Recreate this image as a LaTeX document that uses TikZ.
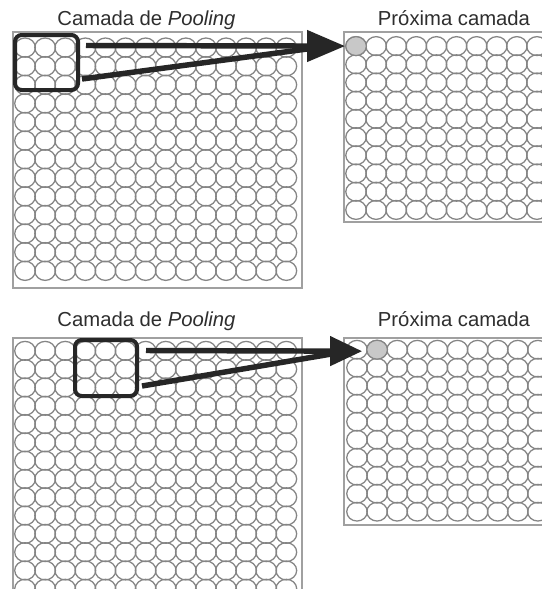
\documentclass[tikz,border=0pt]{standalone}
\usepackage{fontspec}
\setmainfont{Liberation Sans}
\usetikzlibrary{arrows.meta,shapes.geometric,calc}
\definecolor{ringc}{HTML}{858585}
\definecolor{framec}{HTML}{A0A0A0}
\definecolor{inkc}{HTML}{262626}
\definecolor{textc}{HTML}{2E2E2E}
\definecolor{hitc}{HTML}{C8C8C8}
\begin{document}
\begin{tikzpicture}[x=0.75pt,y=-0.75pt,
 ring/.style={draw=ringc,line width=0.95pt},
 frame/.style={draw=framec,line width=1.1pt},
 kernel/.style={rectangle,draw=inkc,line width=3pt,rounded corners=5pt,inner sep=0pt},
 hit/.style={ellipse,draw=ringc,fill=hitc,line width=0.95pt,minimum width=15.5pt,minimum height=14.2pt,inner sep=0pt},
 title/.style={font=\fontsize{15.2pt}{18pt}\selectfont,text=textc,anchor=base,inner sep=0pt},
 link/.style={draw=inkc,line width=4.1pt}
]
\useasboundingbox (0,0) rectangle (542,589);
\fill[white] (0,0) rectangle (542,589);
\clip (0,0) rectangle (542,589);

% ---------- top panel ----------
\node[title] (t1) at (146.5,26) {Camada de \textit{Pooling}};
\node[title] (t2) at (454,26) {Próxima camada};

\draw[frame] (13,32) rectangle (302,288);
\foreach \i in {0,...,13} \foreach \j in {0,...,12}
  \draw[ring] (25.05+20.1*\i, 47.6+18.6*\j) ellipse [x radius=7.75pt, y radius=7.2pt];

\draw[frame] (344,32) rectangle (560,222);
\foreach \i in {0,...,9} \foreach \j in {0,...,9}
  \draw[ring] (356.05+20.1*\i, 46.1+18.2*\j) ellipse [x radius=7.7pt, y radius=7.1pt];

\node[hit] (h1) at (356.05,46.1) {};
\node[kernel,minimum width=47.25pt,minimum height=41.25pt] (k1) at (46.5,62.5) {};

\coordinate (a1) at (86,45.5);
\coordinate (b1) at (82,79);
\coordinate (m1) at ($(h1.west)+(-20,0.5)$);
\draw[link,-{Triangle[length=28.5pt,width=23pt]}] (a1) -- (h1.west);
\draw[link] (b1) -- (m1);

% ---------- bottom panel ----------
\node[title] (t3) at (146.5,326.5) {Camada de \textit{Pooling}};
\node[title] (t4) at (454,326.5) {Próxima camada};

\draw[frame] (13,338) rectangle (302,600);
\foreach \i in {0,...,13} \foreach \j in {0,...,13}
  \draw[ring] (25.05+20.1*\i, 350.85+18.3*\j) ellipse [x radius=7.75pt, y radius=7.1pt];

\draw[frame] (344,338) rectangle (560,525);
\foreach \i in {0,...,9} \foreach \j in {0,...,9}
  \draw[ring] (357+20.1*\i, 349.7+18*\j) ellipse [x radius=7.7pt, y radius=7.0pt];

\node[hit] (h2) at (377.1,349.7) {};
\node[kernel,minimum width=46.5pt,minimum height=42pt] (k2) at (106,368) {};

\coordinate (tip2) at ($(h2.west)+(-4,1.5)$);
\coordinate (a2) at (146,350.5);
\coordinate (b2) at (142,386);
\coordinate (m2) at ($(tip2)+(-17,0.5)$);
\draw[link,-{Triangle[length=24pt,width=21.5pt]}] (a2) -- (tip2);
\draw[link] (b2) -- (m2);
\end{tikzpicture}
\end{document}
